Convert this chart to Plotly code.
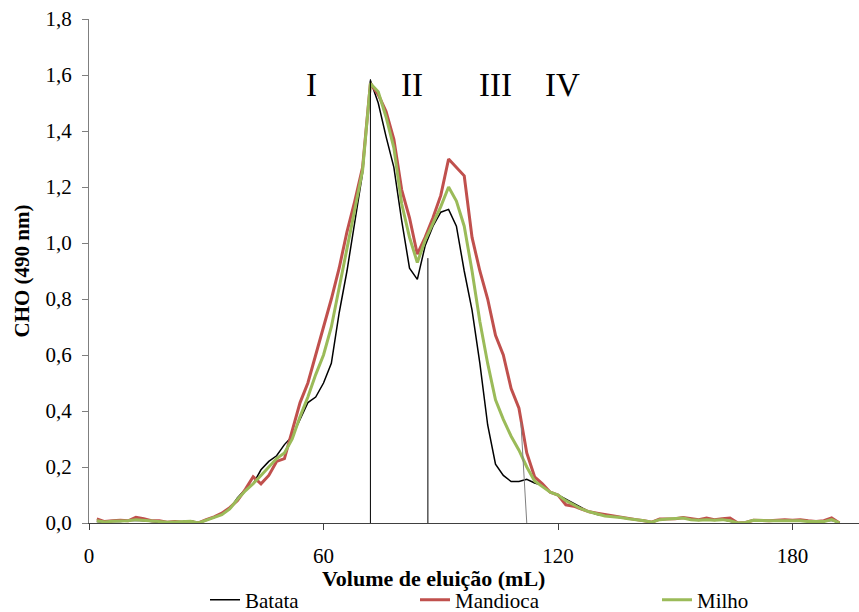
import plotly.graph_objects as go

volume = list(range(2, 194, 2))

batata = [0.005, 0.003, 0.005, 0.005, 0.008, 0.01, 0.008, 0.005, 0.003, 0.003,
          0.003, 0.005, 0.008, 0.0, 0.01, 0.02, 0.03, 0.05, 0.09, 0.12,
          0.14, 0.19, 0.22, 0.24, 0.28, 0.31, 0.37, 0.43, 0.45, 0.5,
          0.57, 0.75, 0.9, 1.08, 1.25, 1.58, 1.5, 1.38, 1.27, 1.08,
          0.91, 0.87, 0.99, 1.06, 1.11, 1.12, 1.06, 0.9, 0.76, 0.57,
          0.35, 0.21, 0.17, 0.148, 0.148, 0.156, 0.143, 0.135, 0.11, 0.1,
          0.085, 0.07, 0.055, 0.04, 0.03, 0.025, 0.022, 0.02, 0.015, 0.012,
          0.008, 0.003, 0.012, 0.014, 0.015, 0.018, 0.012, 0.01, 0.012, 0.01,
          0.012, 0.005, 0.0, 0.002, 0.01, 0.008, 0.008, 0.008, 0.008, 0.008,
          0.008, 0.005, 0.005, 0.005, 0.01, 0.0]

mandioca = [0.015, 0.005, 0.008, 0.01, 0.008, 0.02, 0.015, 0.008, 0.008, 0.003,
            0.005, 0.003, 0.005, 0.0, 0.012, 0.022, 0.035, 0.055, 0.08, 0.12,
            0.165, 0.14, 0.17, 0.22, 0.23, 0.33, 0.43, 0.5, 0.6, 0.7,
            0.8, 0.91, 1.04, 1.15, 1.27, 1.57, 1.53, 1.47, 1.37, 1.19,
            1.09, 0.96, 1.02, 1.09, 1.17, 1.3, 1.27, 1.24, 1.02, 0.9,
            0.8, 0.67, 0.6, 0.48, 0.41, 0.25, 0.165, 0.14, 0.11, 0.1,
            0.065, 0.06, 0.05, 0.04, 0.035, 0.03, 0.025, 0.022, 0.015, 0.012,
            0.008, 0.003, 0.014, 0.015, 0.015, 0.02, 0.015, 0.012, 0.018, 0.012,
            0.015, 0.018, 0.0, 0.002, 0.01, 0.008, 0.008, 0.01, 0.012, 0.01,
            0.012, 0.008, 0.005, 0.008, 0.018, 0.0]

milho = [0.008, 0.004, 0.006, 0.007, 0.008, 0.012, 0.01, 0.006, 0.005, 0.003,
         0.004, 0.004, 0.006, 0.0, 0.01, 0.02, 0.03, 0.05, 0.085, 0.115,
         0.14, 0.17, 0.2, 0.23, 0.25, 0.3, 0.38, 0.45, 0.53, 0.6,
         0.7, 0.84, 0.98, 1.12, 1.26, 1.57, 1.54, 1.45, 1.34, 1.14,
         1.02, 0.93, 1.01, 1.07, 1.13, 1.2, 1.15, 1.06, 0.9, 0.72,
         0.57, 0.44, 0.37, 0.31, 0.26, 0.2, 0.15, 0.13, 0.11, 0.1,
         0.08, 0.065, 0.05, 0.04, 0.032, 0.025, 0.022, 0.02, 0.015, 0.012,
         0.008, 0.003, 0.012, 0.014, 0.015, 0.018, 0.012, 0.01, 0.012, 0.01,
         0.012, 0.008, 0.0, 0.002, 0.01, 0.008, 0.008, 0.008, 0.008, 0.008,
         0.008, 0.005, 0.005, 0.005, 0.012, 0.0]

series_names = ["Batata", "Mandioca", "Milho"]
series_colors = ["#000000", "#C0504D", "#9BBB59"]
series_widths = [1.5, 3, 3]

fraction_labels = ["I", "II", "III", "IV"]
fraction_label_x = [57, 82.6, 104, 121.2]
fraction_label_y = 1.565

# cut lines between fractions: (x0, y0, x1, y1)
cut_lines = [(72, 0, 72, 1.585), (86.7, 0, 86.7, 0.946), (110.5, 0.36, 112, 0)]
cut_colors = ["#000000", "#000000", "#7f7f7f"]

y_ticks = [0, 0.2, 0.4, 0.6, 0.8, 1.0, 1.2, 1.4, 1.6, 1.8]
x_ticks = [0, 60, 120, 180]

serif = "Liberation Serif"

fig = go.Figure()
data = [batata, mandioca, milho]
legend_ids = ["legend", "legend2", "legend3"]
for name, ys, col, w, lg in zip(series_names, data, series_colors, series_widths, legend_ids):
    fig.add_trace(go.Scatter(x=volume, y=ys, mode="lines", name=name,
                             line=dict(color=col, width=w), legend=lg))

for (x0, y0, x1, y1), c in zip(cut_lines, cut_colors):
    fig.add_shape(type="line", x0=x0, y0=y0, x1=x1, y1=y1, xref="x", yref="y",
                  line=dict(color=c, width=1))

for t, xx in zip(fraction_labels, fraction_label_x):
    fig.add_annotation(x=xx, y=fraction_label_y, text=t, showarrow=False,
                       font=dict(family=serif, size=33, color="#000"),
                       xanchor="center", yanchor="middle")

# x-axis title (placed as in the reference, left of centre)
fig.add_annotation(xref="paper", yref="paper", x=(433 - 89) / 770, y=(523 - 578) / 504,
                   text="<b>Volume de eluição (mL)</b>", showarrow=False,
                   xanchor="center", yanchor="middle",
                   font=dict(family=serif, size=22, color="#000"))

leg_common = dict(orientation="h", yanchor="middle", y=(523 - 600) / 504, xanchor="left",
                  font=dict(family=serif, size=21, color="#000"),
                  bgcolor="rgba(0,0,0,0)", borderwidth=0,
                  tracegroupgap=0, itemwidth=30)

fig.update_layout(
    width=859, height=612,
    margin=dict(l=89, r=0, t=19, b=89, autoexpand=False),
    paper_bgcolor="white", plot_bgcolor="white",
    separators=",.",
    font=dict(family=serif, size=21, color="#000"),
    legend=dict(leg_common, x=(205 - 89) / 770),
    legend2=dict(leg_common, x=(415 - 89) / 770),
    legend3=dict(leg_common, x=(657 - 89) / 770),
    showlegend=True,
    xaxis=dict(range=[0, 197], tickvals=x_ticks, ticktext=[str(v) for v in x_ticks],
               showgrid=False, zeroline=False, showline=True, linecolor="#404040",
               linewidth=1, ticks="outside", ticklen=6, tickcolor="#404040",
               ticklabelstandoff=8,
               tickfont=dict(family=serif, size=21, color="#000")),
    yaxis=dict(range=[0, 1.8], tickvals=y_ticks, tickformat=".1f",
               showgrid=False, zeroline=False, showline=True, linecolor="#7f7f7f",
               linewidth=1, ticks="outside", ticklen=6, tickcolor="#7f7f7f",
               ticklabelstandoff=6,
               tickfont=dict(family=serif, size=21, color="#000"),
               title=dict(text="<b>CHO (490 nm)</b>", standoff=10,
                          font=dict(family=serif, size=21, color="#000"))),
)

fig.write_html("out.html")
